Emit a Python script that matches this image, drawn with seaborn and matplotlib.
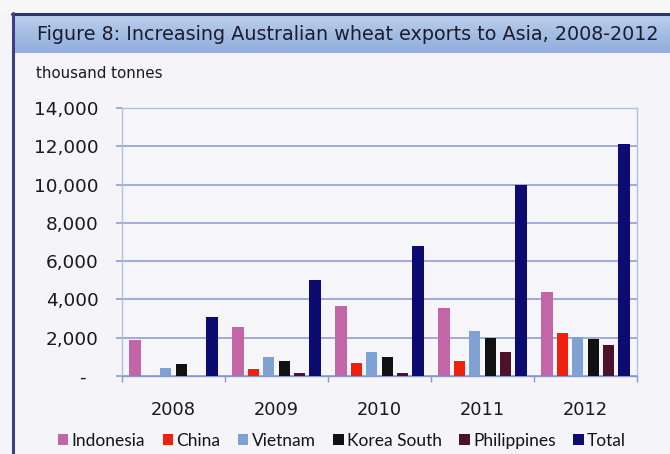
import numpy as np
import pandas as pd
import matplotlib
matplotlib.use("Agg")
import matplotlib.pyplot as plt
from matplotlib.patches import Rectangle
from matplotlib.lines import Line2D
from matplotlib.colors import LinearSegmentedColormap
import seaborn as sns

# Australian wheat exports to Asian markets, thousand tonnes
years = ["2008", "2009", "2010", "2011", "2012"]
indonesia = [1900, 2550, 3650, 3550, 4380]
china = [0, 350, 660, 800, 2230]
vietnam = [400, 1000, 1270, 2370, 2020]
korea_south = [650, 800, 980, 1970, 1920]
philippines = [0, 170, 140, 1270, 1620]
total = [3100, 5000, 6800, 10000, 12100]

series_names = ["Indonesia", "China", "Vietnam", "Korea South", "Philippines", "Total"]
series_values = [indonesia, china, vietnam, korea_south, philippines, total]
colors = ["#c266a8", "#f0200e", "#7fa2d4", "#111111", "#4b1229", "#0b0b72"]
y_ticks = [0, 2000, 4000, 6000, 8000, 10000, 12000, 14000]

df = pd.DataFrame(
    [(y, name, v) for name, vals in zip(series_names, series_values)
     for y, v in zip(years, vals)],
    columns=["year", "market", "kt"],
)

sns.set_theme(style="white")
plt.rcParams["font.family"] = ["DejaVu Sans"]

W, H = 670, 454
fig = plt.figure(figsize=(W / 100, H / 100), dpi=100)
fig.patch.set_facecolor("#f4f4f9")

# page frame and title banner (figure pixel coordinates via a full-size overlay)
bg = fig.add_axes([0, 0, 1, 1], zorder=-5)
bg.set_xlim(0, W)
bg.set_ylim(H, 0)
bg.axis("off")
bg.add_patch(Rectangle((0, 0), W, 13, facecolor="#f7f7f7", edgecolor="none"))
grad = LinearSegmentedColormap.from_list("banner", ["#bccfec", "#a4bde3", "#92aedb"])
bg.imshow(np.linspace(0, 1, 64).reshape(-1, 1), cmap=grad, aspect="auto",
          extent=(14, W, 53, 15), zorder=1)
bg.add_line(Line2D([12, W], [13.5, 13.5], color="#2b3272", lw=2.2))
bg.add_line(Line2D([13, 13], [13, H], color="#3a3f86", lw=2.2))

fig.text(37 / W, 1 - 35 / H, "Figure 8: Increasing Australian wheat exports to Asia, 2008-2012",
         fontsize=13.8, color="#1c1c2a", va="center", ha="left")
fig.text(36 / W, 1 - 73 / H, "thousand tonnes", fontsize=10.9, color="#1c1c1c",
         va="center", ha="left")

ax = fig.add_axes([122 / W, 1 - 376 / H, (637 - 122) / W, (376 - 108) / H])
ax.set_facecolor("#f6f6fa")
sns.barplot(data=df, x="year", y="kt", hue="market", hue_order=series_names,
            palette=colors, width=0.9, gap=0.26, errorbar=None, linewidth=0,
            saturation=1, legend=True, ax=ax, zorder=3)

ax.set_ylim(0, 14000)
ax.set_xlim(-0.5, 4.5)
ax.set_yticks(y_ticks)
ax.set_yticklabels(["-  " if t == 0 else f"{t:,}" for t in y_ticks])
ax.yaxis.grid(True, color="#8797cc", lw=1.1, zorder=0)
ax.set_axisbelow(True)
ax.set_xlabel("")
ax.set_ylabel("")
for s in ax.spines.values():
    s.set_color("#b4c0e0")
    s.set_linewidth(1.0)
ax.spines["bottom"].set_color("#8797cc")
ax.tick_params(axis="y", length=4, width=1.1, color="#8797cc", left=True,
               pad=13, labelsize=13.3, labelcolor="#1a1a1a")
ax.tick_params(axis="x", which="major", length=0, pad=18, labelsize=12.8,
               labelcolor="#1a1a1a")
ax.set_xticks(np.arange(-0.5, 5.0, 1.0), minor=True)
ax.tick_params(axis="x", which="minor", length=4, color="#8797cc", width=1,
               direction="out", bottom=True)

handles, labels = ax.get_legend_handles_labels()
ax.get_legend().remove()
fig.legend(handles, labels, loc="center", bbox_to_anchor=(342 / W, 1 - 441 / H),
           ncol=6, frameon=False, handlelength=0.6, handleheight=0.6,
           handletextpad=0.2, columnspacing=1.0,
           prop={"family": "Lato", "size": 12.5}, labelcolor="#141414")

fig.savefig("out.png", dpi=100, facecolor=fig.get_facecolor())
